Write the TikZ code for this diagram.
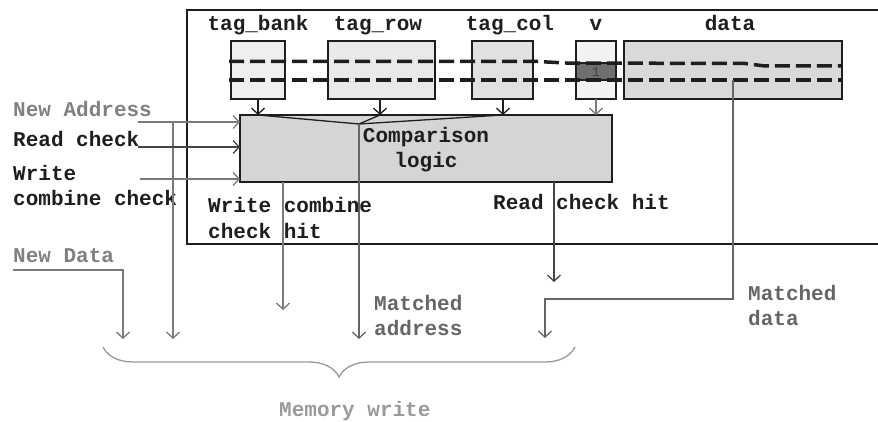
\documentclass[tikz,border=0pt]{standalone}
\usepackage{fontspec}
\setmainfont{Liberation Mono}
\usetikzlibrary{arrows.meta,decorations.pathreplacing}
\definecolor{ink}{HTML}{1E1E1E}
\definecolor{gline}{HTML}{7A7A7A}
\definecolor{mline}{HTML}{666666}
\definecolor{dline}{HTML}{454545}
\definecolor{gtext}{HTML}{808080}
\definecolor{ltext}{HTML}{9A9A9A}
\definecolor{fbank}{HTML}{EFEFEF}
\definecolor{frow}{HTML}{E9E9E9}
\definecolor{fcol}{HTML}{E1E1E1}
\definecolor{fv}{HTML}{F2F2F2}
\definecolor{fdata}{HTML}{D9D9D9}
\definecolor{fcmp}{HTML}{D5D5D5}
\definecolor{fband}{HTML}{6F6F6F}
\begin{document}
\begin{tikzpicture}[x=1pt,y=-1pt,
  font=\fontsize{21}{25}\selectfont\bfseries,
  reg/.style={draw=ink, line width=1.5pt, inner sep=0pt, outer sep=0pt, anchor=north west},
  lbl/.style={inner sep=0pt, anchor=base west, align=left, text=ink},
  glbl/.style={lbl, text=gtext},
  tagl/.style={inner sep=0pt, anchor=base, text=ink},
  tip/.style={-{Straight Barb[length=6pt,width=13pt,line width=1.3pt]}},
  arr/.style={tip, line width=1.3pt, draw=ink},
  garr/.style={tip, line width=1.3pt, draw=gline},
  bus/.style={line width=3.5pt, draw=ink, dash pattern=on 15pt off 6pt}]
\useasboundingbox (0,0) rectangle (878,422);

% frame
\node[reg, minimum width=700pt, minimum height=234pt] (frame) at (187,10) {};

% register fields
\node[reg, fill=fbank, minimum width=54pt, minimum height=58pt] (bank) at (231,41) {};
\node[reg, fill=frow, minimum width=107pt, minimum height=58pt] (row) at (328,41) {};
\node[reg, fill=fcol, minimum width=61pt, minimum height=58pt] (col) at (472,41) {};
\node[reg, fill=fv, minimum width=40pt, minimum height=58pt] (v) at (576,41) {};
\node[reg, fill=fband, minimum width=40pt, minimum height=17pt] (vband) at (576,63) {};
\node[reg, fill=fdata, minimum width=218pt, minimum height=58pt] (data) at (624,41) {};

% field labels
\node[tagl] (tbank) at (258,31) {tag\_bank};
\node[tagl] (trow) at (378,31) {tag\_row};
\node[tagl] (tcol) at (510,31) {tag\_col};
\node[tagl] (tv) at (596,31) {v};
\node[tagl] (tdata) at (730,31) {data};

% dashed buses
\coordinate (b1s) at (229,61.5);
\coordinate (b1a) at (538,61.5);
\coordinate (b1b) at (565,63);
\coordinate (b1c) at (745,63.5);
\coordinate (b1d) at (765,66);
\coordinate (b1e) at (842,66);
\draw[bus] (b1s) -- (b1a) -- (b1b) -- (b1c) -- (b1d) -- (b1e);
\coordinate (b2s) at (229,80);
\coordinate (b2e) at (842,80);
\draw[bus] (b2s) -- (b2e);
\node[inner sep=0pt, font=\fontsize{13}{13}\selectfont\mdseries, text=black!75] (one) at (596,72.5) {1};

% comparison logic
\node[reg, fill=fcmp, minimum width=372pt, minimum height=67pt] (cmp) at (240,115) {};
\node[inner sep=0pt, anchor=base, align=center, text=ink] (cl) at (426,168) {Comparison\\logic};

% field arrows into comparison
\draw[arr] (bank.south) -- (bank.south |- cmp.north);
\draw[arr] (row.south -| 380,0) -- (380,115);
\draw[arr] (col.south -| 503,0) -- (503,115);
\draw[garr] (v.south) -- (v.south |- cmp.north);

% converging lines and matched address
\coordinate (vx) at (359,124);
\draw[line width=1.3pt, draw=ink] (bank.south |- cmp.north) -- (vx) -- (380,115);
\draw[line width=1.3pt, draw=ink] (vx) -- (503,115);
\coordinate (maE) at (359,339);
\draw[garr, draw=mline] (vx) -- (maE);

% inputs on the left
\node[glbl] (na) at (13,117) {New Address};
\node[lbl] (rc) at (13,147) {Read check};
\node[lbl] (wc) at (13,206) {Write\\combine check};
\node[glbl] (nd) at (13,262) {New Data};

\coordinate (naS) at (138,122);
\draw[garr] (naS) -- (naS -| cmp.west);
\coordinate (naB) at (173,122);
\coordinate (naE) at (173,339);
\draw[garr] (naB) -- (naE);
\coordinate (rcS) at (138,147);
\draw[arr, draw=dline] (rcS) -- (rcS -| cmp.west);
\coordinate (wcS) at (140,179);
\draw[garr] (wcS) -- (wcS -| cmp.west);

% outputs
\node[lbl] (wch) at (208,238) {Write combine\\check hit};
\node[lbl] (rch) at (493,210) {Read check hit};
\coordinate (wchE) at (283,310);
\draw[garr] (wchE |- cmp.south) -- (wchE);
\coordinate (rchE) at (554,282);
\draw[arr, draw=dline] (rchE |- cmp.south) -- (rchE);

% matched data
\coordinate (mdS) at (733,80);
\coordinate (mdK) at (733,299);
\coordinate (mdE) at (545,338);
\draw[garr, draw=mline] (mdS) -- (mdK) -| (mdE);

% new data
\coordinate (ndS) at (13,270);
\coordinate (ndE) at (123,339);
\draw[garr] (ndS) -| (ndE);

% labels below
\node[glbl, text=mline] (mad) at (374,335) {Matched\\address};
\node[glbl, text=mline] (mdt) at (748,325) {Matched\\data};

% brace
\coordinate (brL) at (103,347);
\coordinate (brR) at (575,347);
\draw[decorate, decoration={brace, mirror, amplitude=30pt}, line width=1.3pt, draw=black!40] (brL) -- (brR);
\node[lbl, text=ltext] (mw) at (279,416) {Memory write};
\end{tikzpicture}
\end{document}
